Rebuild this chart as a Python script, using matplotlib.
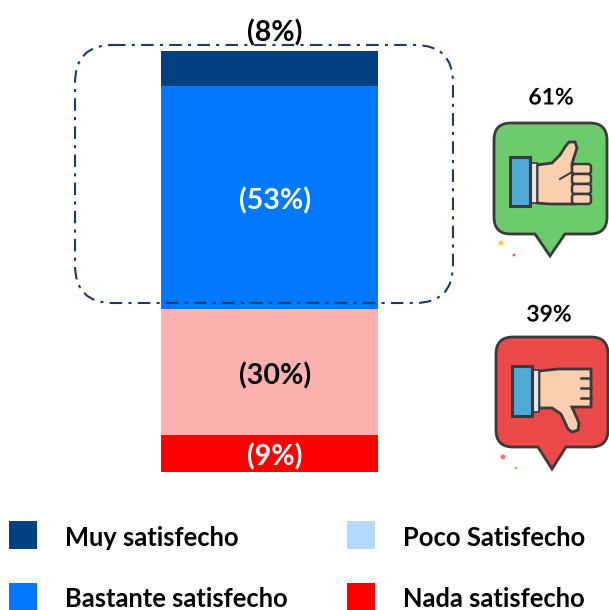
import matplotlib
matplotlib.use('Agg')
import matplotlib.pyplot as plt
import matplotlib.patheffects as pe
from matplotlib.patches import FancyBboxPatch, PathPatch, Polygon, Rectangle, Circle
from matplotlib.path import Path

W, H = 609, 610

# stacked from the bottom up, heights
categories = ['Nada satisfecho', 'Poco Satisfecho', 'Bastante satisfecho', 'Muy satisfecho']
values = [8.8, 29.9, 53.0, 8.3]
bar_labels = ['(9%)', '(30%)', '(53%)', '(8%)']
bar_colors = ['#FF0000', '#FFB0B0', '#0078FF', '#02407F']
label_colors = ['white', 'black', 'white', 'black']

legend_labels = ['Muy satisfecho', 'Bastante satisfecho', 'Poco Satisfecho', 'Nada satisfecho']
legend_colors = ['#02407F', '#0078FF', '#B4D8FF', '#FF0000']
good_total = '61%'
bad_total = '39%'

FONT = 'Lato'
OUTLINE = '#3A3A3A'
SKIN = '#F9CFB0'
CUFF = '#4FA8D5'


def px_rect(x0, y0, x1, y1):
    return [x0 / W, 1 - y1 / H, (x1 - x0) / W, (y1 - y0) / H]


def bubble(ax, x0, y0, x1, y1, tail, color):
    tip_x, tip_y, half = tail
    r = 17
    verts = [(x0 + r, y0), (x1 - r, y0), (x1, y0), (x1, y0 + r), (x1, y1 - r), (x1, y1), (x1 - r, y1),
             (tip_x + half, y1), (tip_x, tip_y), (tip_x - half, y1), (x0 + r, y1), (x0, y1), (x0, y1 - r),
             (x0, y0 + r), (x0, y0), (x0 + r, y0), (x0 + r, y0)]
    codes = [Path.MOVETO, Path.LINETO, Path.CURVE3, Path.CURVE3, Path.LINETO, Path.CURVE3, Path.CURVE3,
             Path.LINETO, Path.LINETO, Path.LINETO, Path.LINETO, Path.CURVE3, Path.CURVE3,
             Path.LINETO, Path.CURVE3, Path.CURVE3, Path.CLOSEPOLY]
    ax.add_patch(PathPatch(Path(verts, codes), fc=color, ec=OUTLINE, lw=2, zorder=2))


def thumb_up(ax):
    bubble(ax, 494, 123, 607, 234, (550, 256, 15), '#6CCB6C')
    ax.add_patch(Polygon([(537, 165), (552, 163), (560, 155), (565, 147), (569, 142), (575, 142),
                          (577, 148), (574, 157), (572, 164), (574, 204), (550, 204), (537, 203)],
                         fc=SKIN, ec=OUTLINE, lw=2, zorder=4))
    ax.plot([560, 572], [179, 172], color=OUTLINE, lw=1.4, zorder=5)
    for y in [164, 174, 184, 194]:
        ax.add_patch(FancyBboxPatch((574, y + 2), 15, 6, boxstyle='round,pad=2,rounding_size=3',
                                    fc=SKIN, ec=OUTLINE, lw=1.8, zorder=5))
    ax.add_patch(Rectangle((530, 163), 7, 40, fc='#E6E6E6', ec=OUTLINE, lw=1.2, zorder=4))
    ax.add_patch(Rectangle((510, 157), 20, 49, fc=CUFF, ec=OUTLINE, lw=2.2, zorder=5))
    ax.add_patch(Circle((501, 243), 2.5, fc='#F7CF5A', ec='none', zorder=2))
    ax.add_patch(Circle((514, 255), 1.5, fc='#E86A6A', ec='none', zorder=2))


def thumb_down(ax):
    bubble(ax, 496, 337, 608, 447, (552, 469, 14), '#EC4A4A')
    ax.add_patch(Polygon([(539, 371), (558, 369), (591, 369), (591, 407), (572, 407), (579, 423),
                          (578, 430), (572, 432), (568, 429), (561, 414), (552, 408), (539, 408)],
                         fc=SKIN, ec=OUTLINE, lw=2, zorder=4))
    for y in [378, 388, 398]:
        ax.plot([581, 591], [y, y], color=OUTLINE, lw=1.8, zorder=5)
    ax.add_patch(Rectangle((532, 370), 7, 42, fc='#E6E6E6', ec=OUTLINE, lw=1.2, zorder=4))
    ax.add_patch(Rectangle((512, 366), 20, 50, fc=CUFF, ec=OUTLINE, lw=2.2, zorder=5))
    ax.add_patch(Circle((503, 457), 2.5, fc='#EE7A7A', ec='none', zorder=2))
    ax.add_patch(Circle((516, 468), 1.5, fc='#7FCF7F', ec='none', zorder=2))


fig = plt.figure(figsize=(W / 100, H / 100), dpi=100, facecolor='white')

# bar axes: full height of the stack is 100 %
ax = fig.add_axes(px_rect(161, 51, 378, 472))
ax.set_xlim(-0.5, 0.5)
ax.set_ylim(0, 100)
ax.axis('off')

bottom = 0
for val, lab, col, tc in zip(values, bar_labels, bar_colors, label_colors):
    ax.bar(0, val, width=1, bottom=bottom, color=col, linewidth=0)
    y = bottom + val / 2 - 0.3
    if lab == bar_labels[-1]:
        # top label sits above the stack
        y = bottom + val + 5
    ax.text(0.025, y, lab, ha='center', va='center_baseline', color=tc, fontsize=20.5,
            family=FONT, weight='bold', clip_on=False, zorder=6)
    bottom += val

# overlay in pixel coordinates for the frame, icons and legend
ov = fig.add_axes([0, 0, 1, 1])
ov.set_xlim(0, W)
ov.set_ylim(H, 0)
ov.axis('off')
ov.patch.set_alpha(0)

ov.add_patch(FancyBboxPatch((75 + 38, 45 + 38), 378 - 76, 258 - 76,
                            boxstyle='round,pad=38,rounding_size=38', fc='none', ec='#1F3864',
                            lw=1.5, ls=(0, (6, 3, 1.5, 3)), zorder=7))

thumb_up(ov)
thumb_down(ov)

shadow = [pe.SimpleLineShadow(offset=(1, -1), alpha=0.25), pe.Normal()]
for txt, x, y in [(good_total, 551, 96), (bad_total, 549, 313)]:
    ov.text(x, y, txt, ha='center', va='center_baseline', fontsize=16.5, family=FONT, weight='bold',
            color='black', path_effects=shadow)

swatch_x = [9, 347]
text_x = [65, 403]
rows = [521, 583]
baselines = [546, 607]
for i, (lab, col) in enumerate(zip(legend_labels, legend_colors)):
    c = i // 2
    r = i % 2
    ov.add_patch(Rectangle((swatch_x[c], rows[r]), 28, 28, fc=col, ec='none', clip_on=True))
    ov.text(text_x[c], baselines[r], lab, ha='left', va='baseline', fontsize=18.4, family=FONT,
            weight='bold', color='black')

fig.savefig('out.png', dpi=100)
